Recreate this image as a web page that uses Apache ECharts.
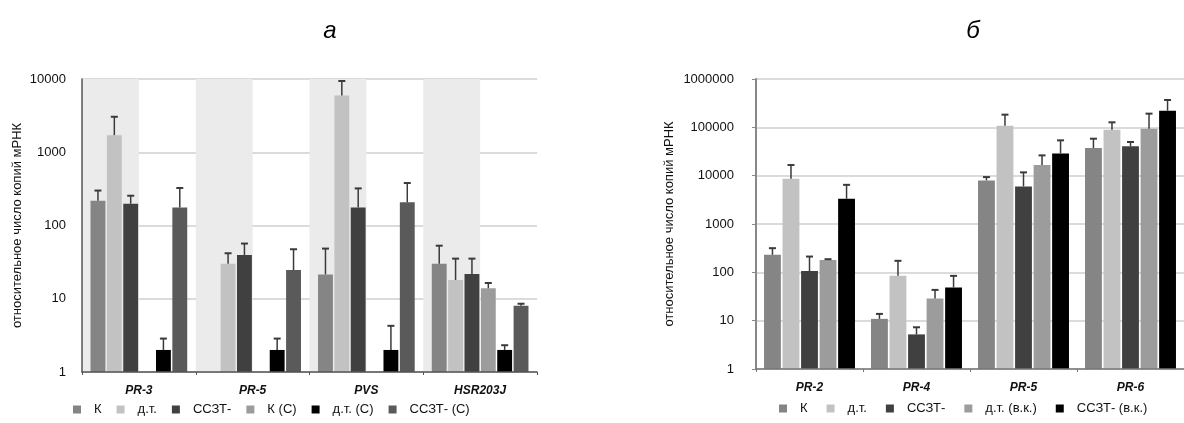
<!DOCTYPE html>
<html>
<head>
<meta charset="utf-8">
<script src="https://cdn.jsdelivr.net/npm/echarts@6/dist/echarts.min.js"></script>
<style>
html,body{margin:0;padding:0;background:#fff;}
#c{width:1184px;height:423px;}
</style>
</head>
<body>
<div id="c"></div>
<script>
// ---- Chart a ----
var catsA = ['PR-3', 'PR-5', 'PVS', 'HSR203J'];
var namesA = ['К', 'д.т.', 'ССЗТ-', 'К (С)', 'д.т. (С)', 'ССЗТ- (С)'];
var colorsA = ['#858585', '#c2c2c2', '#404040', '#9c9c9c', '#000000', '#5a5a5a'];
var kA      = [218, null, 21.5, 30];
var dtA     = [1710, 30, 5970, 18];
var sszA    = [198, 39.6, 176, 21.8];
var kCA     = [null, null, null, 13.9];
var dtCA    = [2, 2, 2, 2];
var sszCA   = [176, 24.7, 207, 8.0];
var kA_err    = [300, null, 48.4, 53];
var dtA_err   = [3050, 41.8, 9390, 35.3];
var sszA_err  = [255, 56.7, 321, 35.3];
var kCA_err   = [null, null, null, 16.4];
var dtCA_err  = [2.86, 2.86, 4.27, 2.32];
var sszCA_err = [325, 47.4, 380, 8.55];
var shadeA = ['', '', '', '', '', '', '', ''];

// ---- Chart б ----
var catsB = ['PR-2', 'PR-4', 'PR-5', 'PR-6'];
var namesB = ['К', 'д.т.', 'ССЗТ-', 'д.т. (в.к.)', 'ССЗТ- (в.к.)'];
var colorsB = ['#858585', '#c2c2c2', '#404040', '#9c9c9c', '#000000'];
var kB     = [230, 10.9, 7980, 37300];
var dtB    = [8640, 84.5, 108000, 89500];
var sszB   = [106, 5.2, 5990, 40400];
var dtVB   = [181, 28.7, 16600, 93800];
var sszVB  = [3330, 48.4, 28900, 221000];
var kB_err    = [316, 13.8, 9350, 58200];
var dtB_err   = [16600, 173, 183000, 127000];
var sszB_err  = [212, 7.3, 11700, 49700];
var dtVB_err  = [187, 43.3, 26300, 192000];
var sszVB_err = [6460, 84.5, 53800, 368000];

var yTitle = 'относительное число копий мРНК';
var FONT = '"Liberation Sans", Arial, sans-serif';

var valsA = [kA, dtA, sszA, kCA, dtCA, sszCA];
var errsA = [kA_err, dtA_err, sszA_err, kCA_err, dtCA_err, sszCA_err];
var valsB = [kB, dtB, sszB, dtVB, sszVB];
var errsB = [kB_err, dtB_err, sszB_err, dtVB_err, sszVB_err];

var CAT_GAP_A = 0.15, GAP_A = 0.10;
var CAT_GAP_B = 0.15, GAP_B = 0.10;

function errRender(si, n, catGap, gap, nCat) {
  return function (params, api) {
    var v = api.value(1), e = api.value(2);
    if (v == null || isNaN(v) || e == null || isNaN(e)) return;
    var cat = api.value(0);
    var cs = params.coordSys;
    var band = cs.width / nCat;
    var bw = band * (1 - catGap) / (n + (n - 1) * gap);
    var total = bw * n + bw * gap * (n - 1);
    var c = api.coord([cat, v]);
    var t = api.coord([cat, e]);
    var x = c[0] - total / 2 + si * bw * (1 + gap) + bw / 2;
    var half = 3.5;
    return {
      type: 'group',
      children: [
        {type: 'line', shape: {x1: x, y1: c[1], x2: x, y2: t[1]}, style: {stroke: '#3a3a3a', lineWidth: 1.5}},
        {type: 'line', shape: {x1: x - half, y1: t[1], x2: x + half, y2: t[1]}, style: {stroke: '#3a3a3a', lineWidth: 2}}
      ]
    };
  };
}

var series = [];
namesA.forEach(function (nm, i) {
  series.push({
    name: nm, type: 'bar', xAxisIndex: 0, yAxisIndex: 0,
    data: valsA[i], barCategoryGap: (CAT_GAP_A * 100) + '%', barGap: (GAP_A * 100) + '%',
    itemStyle: {color: colorsA[i]}, silent: true
  });
});
namesA.forEach(function (nm, i) {
  series.push({
    name: 'errA' + i, type: 'custom', xAxisIndex: 0, yAxisIndex: 0, z: 5, silent: true,
    renderItem: errRender(i, namesA.length, CAT_GAP_A, GAP_A, catsA.length),
    encode: {x: 0, y: [1, 2]},
    data: catsA.map(function (c, j) { return [j, valsA[i][j], errsA[i][j]]; })
  });
});
namesB.forEach(function (nm, i) {
  series.push({
    name: nm, type: 'bar', xAxisIndex: 1, yAxisIndex: 1,
    data: valsB[i], barCategoryGap: (CAT_GAP_B * 100) + '%', barGap: (GAP_B * 100) + '%',
    itemStyle: {color: colorsB[i]}, silent: true
  });
});
namesB.forEach(function (nm, i) {
  series.push({
    name: 'errB' + i, type: 'custom', xAxisIndex: 1, yAxisIndex: 1, z: 5, silent: true,
    renderItem: errRender(i, namesB.length, CAT_GAP_B, GAP_B, catsB.length),
    encode: {x: 0, y: [1, 2]},
    data: catsB.map(function (c, j) { return [j, valsB[i][j], errsB[i][j]]; })
  });
});

var catLabel = {fontFamily: FONT, fontSize: 12, fontWeight: 'bold', fontStyle: 'italic', color: '#111', margin: 13};
var yLabel = {fontFamily: FONT, fontSize: 13, color: '#111', formatter: function (v) { return String(v); }};
var legText = {fontFamily: FONT, fontSize: 13, color: '#111', padding: [0, 0, 0, 8]};

var option = {
  animation: false,
  backgroundColor: '#fff',
  title: [
    {text: 'а', left: 325, top: 14, textAlign: 'center', textStyle: {fontFamily: FONT, fontSize: 24, fontStyle: 'italic', fontWeight: 'normal', color: '#000'}},
    {text: 'б', left: 968, top: 14, textAlign: 'center', textStyle: {fontFamily: FONT, fontSize: 24, fontStyle: 'italic', fontWeight: 'normal', color: '#000'}}
  ],
  grid: [
    {left: 82, top: 79, width: 455, height: 293},
    {left: 756, top: 79, width: 436, height: 290}
  ],
  legend: [
    {
      data: namesA, left: 68, top: 398, itemWidth: 8, itemHeight: 8, itemGap: 15, icon: 'rect',
      textStyle: legText, selectedMode: false
    },
    {
      data: namesB, left: 774, top: 397, itemWidth: 8, itemHeight: 8, itemGap: 19, icon: 'rect',
      textStyle: legText, selectedMode: false
    }
  ],
  xAxis: [
    {
      type: 'category', gridIndex: 0, data: catsA, position: 'bottom',
      axisLine: {lineStyle: {color: '#555', width: 1.5}},
      axisTick: {show: true, length: 3, lineStyle: {color: '#555'}},
      axisLabel: catLabel, splitLine: {show: false}, z: 3
    },
    {
      type: 'category', gridIndex: 1, data: catsB, position: 'bottom',
      axisLine: {lineStyle: {color: '#777', width: 1.5}},
      axisTick: {show: true, length: 3, lineStyle: {color: '#777'}},
      axisLabel: catLabel, splitLine: {show: false}, z: 3
    },
    {
      type: 'category', gridIndex: 0, data: shadeA, position: 'top',
      axisLine: {show: false}, axisTick: {show: false}, axisLabel: {show: false},
      splitLine: {show: false},
      splitArea: {show: true, areaStyle: {color: ['#ebebeb', 'rgba(255,255,255,0)']}}
    }
  ],
  yAxis: [
    {
      type: 'log', logBase: 10, gridIndex: 0, min: 1, max: 10000,
      name: yTitle, nameLocation: 'middle', nameGap: 58, nameRotate: 90,
      nameTextStyle: {fontFamily: FONT, fontSize: 13, color: '#111'},
      axisLine: {show: true, lineStyle: {color: '#555', width: 1.5}},
      axisTick: {show: false},
      axisLabel: Object.assign({margin: 16}, yLabel),
      splitLine: {show: true, lineStyle: {color: '#cfcfcf', width: 1.5}}
    },
    {
      type: 'log', logBase: 10, gridIndex: 1, min: 1, max: 1000000,
      name: yTitle, nameLocation: 'middle', nameGap: 80, nameRotate: 90,
      nameTextStyle: {fontFamily: FONT, fontSize: 13, color: '#111'},
      axisLine: {show: true, lineStyle: {color: '#888', width: 2}},
      axisTick: {show: true, length: 4, lineStyle: {color: '#888'}},
      axisLabel: Object.assign({margin: 22}, yLabel),
      splitLine: {show: true, lineStyle: {color: '#cfcfcf', width: 1.5}}
    }
  ],
  series: series
};

var chart = echarts.init(document.getElementById('c'), null, {renderer: 'canvas'});
chart.setOption(option);
</script>
</body>
</html>
